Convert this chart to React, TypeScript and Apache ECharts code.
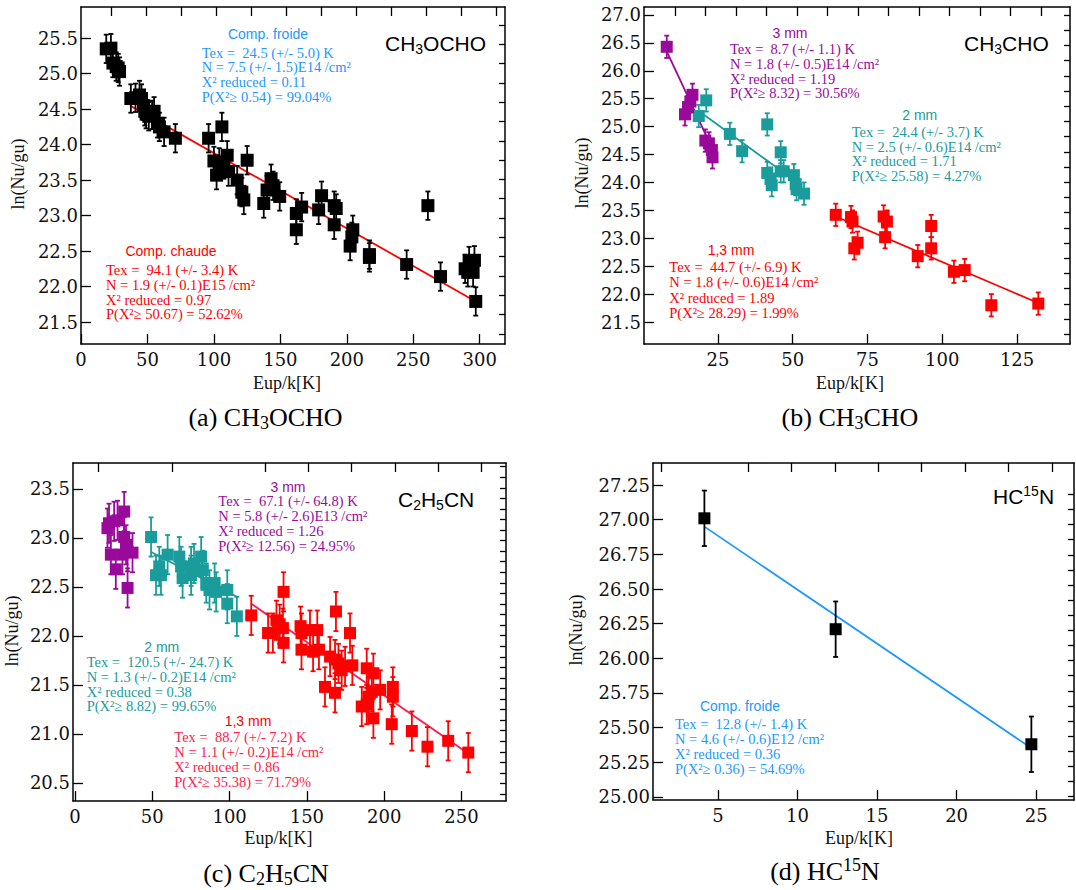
import React, { useEffect, useRef } from "react";
import * as echarts from "echarts";

type P = [number, number];

const ERR_BAR = 0.2;

// ---------- (a) CH3OCHO ----------
const A_X_TICKS = [0, 50, 100, 150, 200, 250, 300];
const A_Y_TICKS = [21.5, 22, 22.5, 23, 23.5, 24, 24.5, 25, 25.5];
const A_POINTS: P[] = [
  [19, 25.35], [22.5, 25.36], [24, 25.15], [26.5, 25.1], [28, 25.08], [29, 25.03],
  [37.5, 24.65], [41, 24.66], [44, 24.7], [45.5, 24.65], [47, 24.55], [48, 24.47], [49, 24.43],
  [51, 24.4], [53.5, 24.42], [55, 24.47], [57.5, 24.3], [59, 24.25], [62.5, 24.18], [71, 24.09],
  [96, 24.09], [106, 24.25], [100, 23.77], [102, 23.57], [104, 23.75], [107.5, 23.72], [110, 23.85],
  [111, 23.62], [117.5, 23.5], [121, 23.33], [122.5, 23.22], [125, 23.78],
  [137.5, 23.17], [140, 23.36], [143, 23.52], [144.5, 23.42], [149.5, 23.27], [162, 23.03], [162, 22.8],
  [166, 23.12], [178.8, 23.08], [181, 23.28], [190.5, 23.14], [192, 23.1], [190.5, 22.87], [204.5, 22.8],
  [203.8, 22.7], [202.5, 22.57], [217, 22.45], [217, 22.41], [245, 22.31], [261, 23.14], [270.5, 22.14],
  [289, 22.25], [291, 22.2], [292, 22.36], [295, 22.2], [296, 22.37], [297, 21.79],
];
const A_FIT_HOT: P[] = [[37, 24.55], [297, 21.79]];

// ---------- (b) CH3CHO ----------
const B_X_TICKS = [0, 25, 50, 75, 100, 125];
const B_Y_TICKS = [21.5, 22, 22.5, 23, 23.5, 24, 24.5, 25, 25.5, 26, 26.5, 27];
const B_3MM: P[] = [
  [7.9, 26.43], [14, 25.22], [15, 25.35], [15.8, 25.45], [16.5, 25.57],
  [20.8, 24.75], [22, 24.7], [23, 24.58], [23.2, 24.45],
];
const B_3MM_FIT: P[] = [[7.9, 26.35], [23, 24.62]];
const B_2MM: P[] = [
  [18.6, 25.19], [21.1, 25.47], [29, 24.87], [33.1, 24.56], [41.5, 25.04], [41.5, 24.17],
  [42.6, 24.07], [43, 23.95], [46, 24.2], [46, 24.54], [47, 24.2], [50.4, 24.13], [51, 23.97],
  [51.3, 23.88], [53.8, 23.8],
];
const B_2MM_FIT: P[] = [[18.6, 25.28], [51, 24.02]];
const B_13MM: P[] = [
  [64.4, 23.42], [69.5, 23.38], [70, 23.3], [70.6, 22.82], [71.7, 22.92], [80.4, 23.39],
  [81.5, 23.3], [80.9, 23.02], [91.8, 22.68], [96.3, 23.22], [96.3, 22.82], [103.9, 22.4],
  [107.5, 22.43], [116.4, 21.8], [132.1, 21.83],
];
const B_13MM_FIT: P[] = [[64.4, 23.39], [132.1, 21.84]];

// ---------- (c) C2H5CN ----------
const C_X_TICKS = [0, 50, 100, 150, 200, 250];
const C_Y_TICKS = [20.5, 21, 21.5, 22, 22.5, 23, 23.5];
const C_3MM: P[] = [
  [21, 23.1], [22, 23.15], [23.2, 22.83], [25.3, 23.17], [26.4, 22.68], [27.5, 23.18],
  [31.8, 23.27], [31.8, 23.01], [30.7, 22.83], [33, 22.93], [34, 22.86], [37.2, 22.85], [34, 22.49],
];
const C_2MM: P[] = [
  [49.2, 23.01], [52.4, 22.62], [54.5, 22.71], [55.6, 22.62], [59.9, 22.83], [67.5, 22.81],
  [68.6, 22.71], [69.6, 22.59], [75.1, 22.71], [75.1, 22.62], [77, 22.74], [81.6, 22.81],
  [82.7, 22.67], [84.9, 22.54], [87, 22.47], [90.3, 22.54], [91.3, 22.45], [98.5, 22.47],
  [98.5, 22.33], [104.7, 22.2],
];
const C_2MM_FIT: P[] = [[49, 22.86], [104.7, 22.4]];
const C_13MM: P[] = [
  [114, 22.21], [124.9, 22.03], [128, 22.03], [130.3, 22.16], [132.4, 22.12], [134.9, 22.45],
  [134.9, 21.93], [134.5, 22.08], [145.9, 22.1], [146.5, 22.03], [146.5, 21.86], [152, 22.06],
  [154, 21.84], [156.7, 22.06], [157.8, 21.86], [161.7, 21.48], [165, 21.79], [168.8, 22.25],
  [168.2, 21.76], [168.2, 21.42], [170.4, 21.72], [172.5, 21.65], [174.7, 21.69], [177.9, 22.03],
  [179.4, 21.7], [185.5, 21.28], [188.7, 21.67], [188.7, 21.3], [189.8, 21.38], [192, 21.43],
  [193, 21.62], [193, 21.16], [197.4, 21.45], [205.6, 21.48], [205.6, 21.38], [204.9, 21.1],
  [217.9, 21.03], [228, 20.87], [241.4, 20.93], [254.4, 20.81],
];
const C_13MM_FIT: P[] = [[114, 22.33], [254.4, 20.8]];

// ---------- (d) HC15N ----------
const D_X_TICKS = [5, 10, 15, 20, 25];
const D_Y_TICKS = [25, 25.25, 25.5, 25.75, 26, 26.25, 26.5, 26.75, 27, 27.25];
const D_POINTS: P[] = [[4.15, 27.01], [12.4, 26.21], [24.7, 25.38]];
const D_FIT: P[] = [[4.15, 26.95], [24.6, 25.36]];

// ---------- styling ----------
const BLACK = "#000000";
const RED = "#ff0000";
const RED_C = "#ff1a4a";
const TEAL = "#1a9c9c";
const PURPLE = "#9a0a9a";
const BLUE = "#1e98ff";
const SERIF = '"Liberation Serif", "Times New Roman", serif';
const TICKFONT = '"DejaVu Serif", serif';
const SANS = '"Liberation Sans", Arial, sans-serif';

const seq = (start: number, step: number, count: number) =>
  Array.from({ length: count }, (_, i) => start + i * step);

interface Group {
  data: P[];
  fit?: P[];
  color: string;
  fitColor?: string;
}
interface Panel {
  left: number; top: number; right: number; bottom: number;
  x: [number, number]; y: [number, number];
  xTicks: number[]; yTicks: number[]; yDigits: number;
  topTicks: number[]; rightTicks: number[];
  size: number;
  groups: Group[];
}

const PANELS: Panel[] = [
  {
    left: 81, top: 7, right: 505, bottom: 344, x: [0, 319], y: [21.19, 25.94],
    xTicks: A_X_TICKS, yTicks: A_Y_TICKS, yDigits: 1,
    topTicks: [111.7, 146.7, 181.7, 216.7, 251.7, 286.7, 321.7, 356.7, 391.7, 426.7, 461.7, 496.7],
    rightTicks: seq(25, 19.3, 17), size: 13,
    groups: [{ data: A_POINTS, fit: A_FIT_HOT, color: BLACK, fitColor: RED }],
  },
  {
    left: 644, top: 7, right: 1070, bottom: 344, x: [0.3, 142.7], y: [21.106, 27.143],
    xTicks: B_X_TICKS, yTicks: B_Y_TICKS, yDigits: 1,
    topTicks: seq(675, 30.5, 13), rightTicks: seq(15, 15.2, 22), size: 12,
    groups: [
      { data: B_13MM, fit: B_13MM_FIT, color: RED, fitColor: RED },
      { data: B_2MM, fit: B_2MM_FIT, color: TEAL, fitColor: TEAL },
      { data: B_3MM, fit: B_3MM_FIT, color: PURPLE, fitColor: PURPLE },
    ],
  },
  {
    left: 73, top: 463, right: 506, bottom: 801, x: [-1.3, 278.8], y: [20.316, 23.765],
    xTicks: C_X_TICKS, yTicks: C_Y_TICKS, yDigits: 1,
    topTicks: [98, 172, 265, 308.3, 351.7, 395, 438.3, 481.7],
    rightTicks: seq(466.7, 10.56, 32), size: 12,
    groups: [
      { data: C_13MM, fit: C_13MM_FIT, color: RED, fitColor: RED_C },
      { data: C_2MM, fit: C_2MM_FIT, color: TEAL, fitColor: TEAL },
      { data: C_3MM, color: PURPLE },
    ],
  },
  {
    left: 653, top: 463, right: 1074, bottom: 800, x: [0.92, 27.38], y: [24.978, 27.409],
    xTicks: D_X_TICKS, yTicks: D_Y_TICKS, yDigits: 2,
    topTicks: [661.7, 748.3, 791.7, 835, 878.3, 921.7, 965, 1008.3, 1052.7],
    rightTicks: seq(494.3, 15.12, 21), size: 12,
    groups: [{ data: D_POINTS, fit: D_FIT, color: BLACK, fitColor: BLUE }],
  },
];

const AXIS_LINE = { show: true, onZero: false, lineStyle: { color: "#000", width: 1.5 } };

function buildOption() {
  const grid: any[] = [];
  const xAxis: any[] = [];
  const yAxis: any[] = [];
  const series: any[] = [];

  PANELS.forEach((p, gi) => {
    grid.push({ left: p.left, top: p.top, width: p.right - p.left, height: p.bottom - p.top });
    const xi = xAxis.length;
    const yi = yAxis.length;
    xAxis.push({
      type: "value", gridIndex: gi, position: "bottom", min: p.x[0], max: p.x[1],
      axisLine: AXIS_LINE,
      axisTick: { show: true, inside: true, length: 10, customValues: p.xTicks, lineStyle: { color: "#000", width: 1.3 } },
      axisLabel: {
        customValues: p.xTicks, margin: 6, color: "#111", fontFamily: TICKFONT, fontSize: 18,
        formatter: (v: number) => String(Math.round(v)),
      },
      splitLine: { show: false },
    });
    xAxis.push({
      type: "value", gridIndex: gi, position: "top", min: p.left, max: p.right,
      axisLine: AXIS_LINE,
      axisTick: { show: true, inside: true, length: 9, customValues: p.topTicks, lineStyle: { color: "#000", width: 1.3 } },
      axisLabel: { show: false },
      splitLine: { show: false },
    });
    yAxis.push({
      type: "value", gridIndex: gi, position: "left", min: p.y[0], max: p.y[1],
      axisLine: AXIS_LINE,
      axisTick: { show: true, inside: true, length: 10, customValues: p.yTicks, lineStyle: { color: "#000", width: 1.3 } },
      axisLabel: {
        customValues: p.yTicks, margin: 3, color: "#111", fontFamily: TICKFONT, fontSize: 18,
        formatter: (v: number) => v.toFixed(p.yDigits),
      },
      splitLine: { show: false },
    });
    yAxis.push({
      type: "value", gridIndex: gi, position: "right", min: p.top, max: p.bottom, inverse: true,
      axisLine: AXIS_LINE,
      axisTick: { show: true, inside: true, length: 6, customValues: p.rightTicks, lineStyle: { color: "#000", width: 1.3 } },
      axisLabel: { show: false },
      splitLine: { show: false },
    });

    p.groups.forEach((g) => {
      if (g.fit) {
        series.push({
          type: "line", xAxisIndex: xi, yAxisIndex: yi, data: g.fit, symbol: "none", silent: true, z: 2,
          lineStyle: { color: g.fitColor || g.color, width: 1.8 },
        });
      }
      series.push({
        type: "custom", xAxisIndex: xi, yAxisIndex: yi, z: 3, silent: true,
        data: g.data.map(([x, y]) => [x, y, ERR_BAR]),
        encode: { x: 0, y: 1 },
        renderItem: (_params: any, api: any) => {
          const x = api.value(0);
          const y = api.value(1);
          const e = api.value(2);
          const t = api.coord([x, y + e]);
          const b = api.coord([x, y - e]);
          const c = 2.5;
          const style = { stroke: g.color, lineWidth: 1.8 };
          return {
            type: "group",
            children: [
              { type: "line", shape: { x1: t[0], y1: t[1], x2: b[0], y2: b[1] }, style },
              { type: "line", shape: { x1: t[0] - c, y1: t[1], x2: t[0] + c, y2: t[1] }, style },
              { type: "line", shape: { x1: b[0] - c, y1: b[1], x2: b[0] + c, y2: b[1] }, style },
            ],
          };
        },
      });
      series.push({
        type: "scatter", xAxisIndex: xi, yAxisIndex: yi, data: g.data, symbol: "rect",
        symbolSize: p.size, z: 4, silent: true, itemStyle: { color: g.color, opacity: 1 },
      });
    });
  });

  const graphic: any[] = [];
  const txt = (x: number, y: number, text: string, color: string, font: string, size: number, align = "left", extra: any = {}) => {
    graphic.push({
      type: "text", x, y, silent: true, z: 10,
      style: { text, fill: color, fontFamily: font, fontSize: size, align, verticalAlign: "middle", ...extra },
    });
  };
  const block = (cx: number, ty: number, title: string, left: number, y0: number, step: number, lines: string[], color: string, titleColor?: string) => {
    txt(cx, ty, title, titleColor || color, SANS, 14, "center");
    lines.forEach((l, i) => txt(left, y0 + i * step, l, color, SERIF, 14.5));
  };

  // subscript / superscript rich styles
  const richFor = (font: string, size: number, small: number, shift: number) => ({
    n: { fontFamily: font, fontSize: size },
    s: { fontFamily: font, fontSize: small, padding: [shift, 0, 0, 0] },
    u: { fontFamily: font, fontSize: small, padding: [0, 0, shift, 0] },
  });
  const molRich = richFor(SANS, 21, 14, 11);
  const capRich = richFor(SERIF, 26, 18, 12);
  const rich = (x: number, y: number, text: string, r: any, align = "left") =>
    graphic.push({
      type: "text", x, y, silent: true, z: 10,
      style: { text, rich: r, fill: "#000", align, verticalAlign: "middle", fontFamily: r.n.fontFamily, fontSize: r.n.fontSize },
    });

  // molecule labels
  rich(385, 43, "{n|CH}{s|3}{n|OCHO}", molRich);
  rich(964, 43, "{n|CH}{s|3}{n|CHO}", molRich);
  rich(398, 499, "{n|C}{s|2}{n|H}{s|5}{n|CN}", molRich);
  rich(993, 496, "{n|HC}{u|15}{n|N}", molRich);

  // captions
  rich(265.5, 417, "{n|(a) CH}{s|3}{n|OCHO}", capRich, "center");
  rich(850, 417, "{n|(b) CH}{s|3}{n|CHO}", capRich, "center");
  rich(266, 873, "{n|(c) C}{s|2}{n|H}{s|5}{n|CN}", capRich, "center");
  rich(825, 871, "{n|(d) HC}{u|15}{n|N}", capRich, "center");

  // axis names
  const axName = (x: number, y: number, t: string, rot = false) =>
    graphic.push({
      type: "text", x, y, rotation: rot ? Math.PI / 2 : 0, silent: true,
      style: { text: t, fill: "#111", fontFamily: SERIF, fontSize: 18, align: "center", verticalAlign: "middle" },
    });
  axName(287, 383, "Eup/k[K]");
  axName(850, 383, "Eup/k[K]");
  axName(278.5, 838, "Eup/k[K]");
  axName(859, 838, "Eup/k[K]");
  axName(18, 174, "ln(Nu/gu)", true);
  axName(582, 173, "ln(Nu/gu)", true);
  axName(12, 631, "ln(Nu/gu)", true);
  axName(576, 630, "ln(Nu/gu)", true);

  // fit annotations
  block(268, 34, "Comp. froide", 201.7, 52.7, 14.7,
    ["Tex =  24.5 (+/- 5.0) K", "N = 7.5 (+/- 1.5)E14 /cm²", "X² reduced = 0.11", "P(X²≥ 0.54) = 99.04%"], BLUE);
  block(171, 251, "Comp. chaude", 106, 270, 14.8,
    ["Tex =  94.1 (+/- 3.4) K", "N = 1.9 (+/- 0.1)E15 /cm²", "X² reduced = 0.97", "P(X²≥ 50.67) = 52.62%"], RED);

  block(790, 33, "3 mm", 730, 49.3, 14.7,
    ["Tex =  8.7 (+/- 1.1) K", "N = 1.8 (+/- 0.5)E14 /cm²", "X² reduced = 1.19", "P(X²≥ 8.32) = 30.56%"], PURPLE);
  block(919.7, 115, "2 mm", 851.7, 131.7, 14.8,
    ["Tex =  24.4 (+/- 3.7) K", "N = 2.5 (+/- 0.6)E14 /cm²", "X² reduced = 1.71", "P(X²≥ 25.58) = 4.27%"], TEAL);
  block(731, 250, "1,3 mm", 669.3, 266.7, 15.5,
    ["Tex =  44.7 (+/- 6.9) K", "N = 1.8 (+/- 0.6)E14 /cm²", "X² reduced = 1.89", "P(X²≥ 28.29) = 1.99%"], RED);

  block(288, 486.7, "3 mm", 218.3, 501, 15,
    ["Tex =  67.1 (+/- 64.8) K", "N = 5.8 (+/- 2.6)E13 /cm²", "X² reduced = 1.26", "P(X²≥ 12.56) = 24.95%"], PURPLE);
  block(161.7, 646.7, "2 mm", 86.7, 662.3, 14.6,
    ["Tex =  120.5 (+/- 24.7) K", "N = 1.3 (+/- 0.2)E14 /cm²", "X² reduced = 0.38", "P(X²≥ 8.82) = 99.65%"], TEAL);
  block(248, 721, "1,3 mm", 174.3, 736.7, 15,
    ["Tex =  88.7 (+/- 7.2) K", "N = 1.1 (+/- 0.2)E14 /cm²", "X² reduced = 0.86", "P(X²≥ 35.38) = 71.79%"], RED_C, RED);

  block(740, 705.7, "Comp. froide", 675, 724.3, 15,
    ["Tex =  12.8 (+/- 1.4) K", "N = 4.6 (+/- 0.6)E12 /cm²", "X² reduced = 0.36", "P(X²≥ 0.36) = 54.69%"], BLUE);

  return {
    animation: false,
    backgroundColor: "#ffffff",
    grid, xAxis, yAxis, series, graphic,
  };
}

export default function App() {
  const ref = useRef<HTMLDivElement>(null);
  useEffect(() => {
    if (!ref.current) return;
    const chart = echarts.init(ref.current, undefined, { renderer: "svg" });
    chart.setOption(buildOption() as any);
    return () => chart.dispose();
  }, []);
  return (
    <div
      ref={ref}
      style={{ position: "absolute", left: 0, top: 0, width: 1076, height: 890, background: "#fff" }}
    />
  );
}
